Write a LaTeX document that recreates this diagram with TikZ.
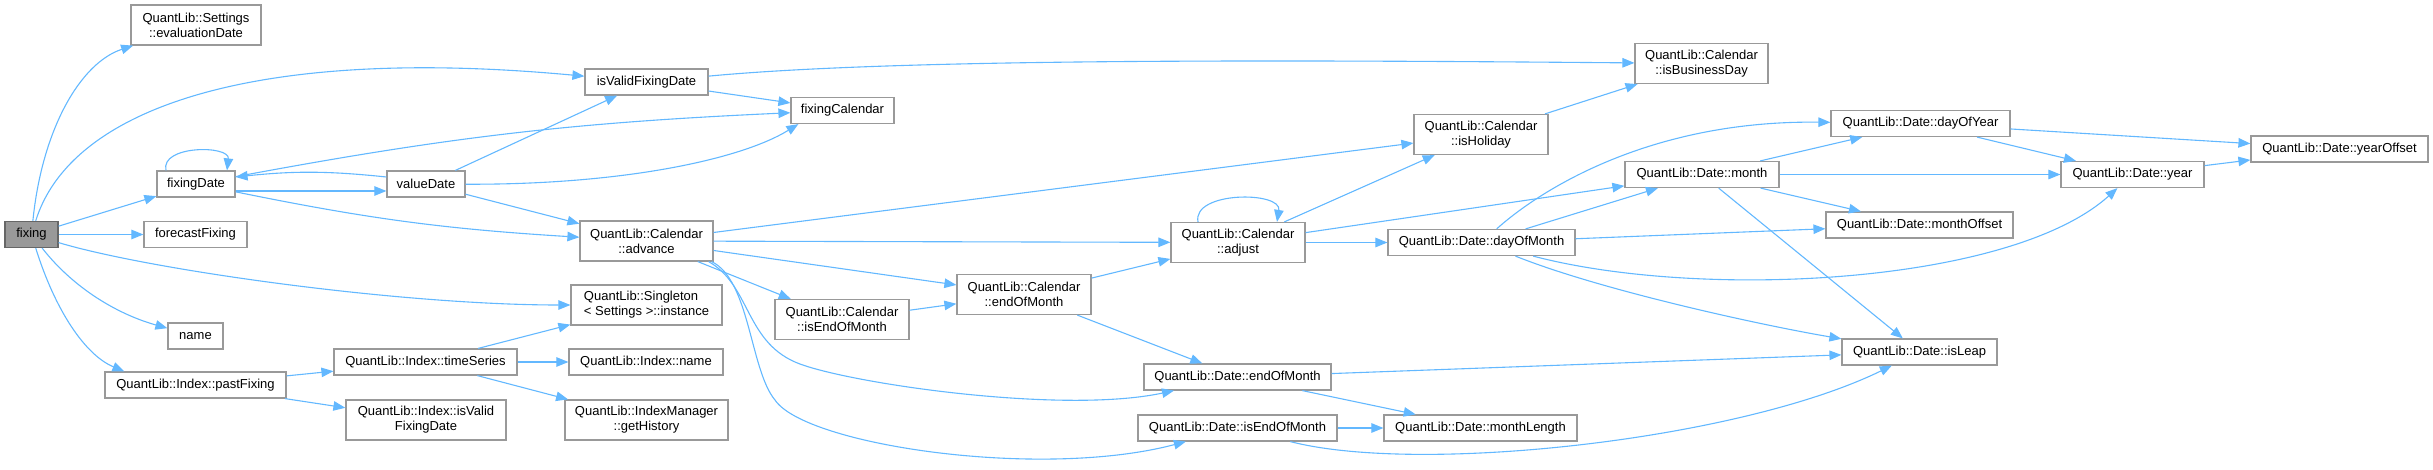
\documentclass[tikz,border=0pt]{standalone}
\usepackage{fontspec}
\setmainfont{Liberation Sans}
\usepackage{tikz}
\usetikzlibrary{arrows.meta}
\definecolor{Edge}{HTML}{63B8FF}
\definecolor{Frame}{HTML}{999999}
\definecolor{RootFill}{HTML}{999999}
\definecolor{RootFrame}{HTML}{666666}
\tikzset{fn/.style={draw=Frame,fill=white,line width=1.2pt,minimum height=26pt,inner xsep=4pt,inner ysep=4pt,align=center},fntwo/.style={fn,minimum height=40pt},fnroot/.style={fn,draw=RootFrame,fill=RootFill},call/.style={-{Triangle[length=12pt,width=9.5pt]},draw=Edge,line width=1.1pt}}
\begin{document}
\begin{tikzpicture}[x=1pt,y=-1pt,every node/.style={font=\fontsize{13}{15}\selectfont}]
      \useasboundingbox (0,0) rectangle (2433,470);
      \node[fnroot,minimum width=53pt](fixing) at (31.5,234.5){fixing};
      \node[fntwo,minimum width=130pt](evaldate) at (196,25){QuantLib::Settings\\::evaluationDate};
      \node[fn,minimum width=123pt](isvalid) at (646.5,82){isValidFixingDate};
      \node[fn,minimum width=103pt](fixcal) at (842.5,110.5){fixingCalendar};
      \node[fntwo,minimum width=133pt](isbusday) at (1701.5,63.5){QuantLib::Calendar\\::isBusinessDay};
      \node[fn,minimum width=78pt](fixdate) at (196,184){fixingDate};
      \node[fn,minimum width=78pt](valdate) at (426,184){valueDate};
      \node[fn,minimum width=103pt](forecast) at (195.5,234.5){forecastFixing};
      \node[fntwo,minimum width=133pt](advance) at (646.5,241){QuantLib::Calendar\\::advance};
      \node[fntwo,minimum width=134pt](isholiday) at (1481,134.5){QuantLib::Calendar\\::isHoliday};
      \node[fntwo,minimum width=134pt](adjust) at (1238,242.5){QuantLib::Calendar\\::adjust};
      \node[fntwo,minimum width=151pt,align=left](instance) at (646.5,305){QuantLib::Singleton\\< Settings >::instance};
      \node[fn,minimum width=55pt](name) at (195.5,336){name};
      \node[fn,minimum width=181pt](pastfix) at (195.5,385){QuantLib::Index::pastFixing};
      \node[fn,minimum width=183pt](series) at (425.5,362){QuantLib::Index::timeSeries};
      \node[fn,minimum width=154pt](idxname) at (646,362){QuantLib::Index::name};
      \node[fntwo,minimum width=160pt](idxvalid) at (426,420){QuantLib::Index::isValid\\FixingDate};
      \node[fntwo,minimum width=163pt](history) at (646.5,420){QuantLib::IndexManager\\::getHistory};
      \node[fntwo,minimum width=134pt](caliseom) at (842,319.5){QuantLib::Calendar\\::isEndOfMonth};
      \node[fntwo,minimum width=134pt](caleom) at (1024,294.5){QuantLib::Calendar\\::endOfMonth};
      \node[fn,minimum width=187pt](dateeom) at (1237.5,377){QuantLib::Date::endOfMonth};
      \node[fn,minimum width=199pt](dateiseom) at (1237.5,428){QuantLib::Date::isEndOfMonth};
      \node[fn,minimum width=193pt](monthlen) at (1480.5,428){QuantLib::Date::monthLength};
      \node[fn,minimum width=187pt](dom) at (1481.5,242.5){QuantLib::Date::dayOfMonth};
      \node[fn,minimum width=154pt](month) at (1702,174.5){QuantLib::Date::month};
      \node[fn,minimum width=179pt](doy) at (1920.5,123.5){QuantLib::Date::dayOfYear};
      \node[fn,minimum width=187pt](monthoff) at (1919.5,225){QuantLib::Date::monthOffset};
      \node[fn,minimum width=143pt](year) at (2132.5,174.5){QuantLib::Date::year};
      \node[fn,minimum width=177pt](yearoff) at (2339.5,149){QuantLib::Date::yearOffset};
      \node[fn,minimum width=155pt](isleap) at (1919.5,352){QuantLib::Date::isLeap};
      % calls from fixing
      \draw[call](fixing) .. controls (42,130) and (80,63) .. (evaldate);
      \draw[call](fixing) .. controls (70,110) and (250,45) .. (isvalid);
      \draw[call](fixing)--(fixdate);\draw[call](fixing)--(forecast);
      \draw[call](fixing) .. controls (150,270) and (400,305) .. (instance);
      \draw[call](fixing) .. controls (75,290) and (120,315) .. (name);
      \draw[call](fixing) .. controls (55,310) and (85,355) .. ([xshift=20pt]pastfix.north west);
      % fixing and value dates
      \draw[call](isvalid) .. controls (900,58) and (1300,60) .. (isbusday);
      \draw[call](isvalid)--(fixcal);
      \draw[call]([xshift=-30pt]fixdate.north) .. controls (160,145) and (230,145) .. ([xshift=31pt]fixdate.north);
      \draw[call]([yshift=-7pt]fixdate.east)--([yshift=-7pt]valdate.west);
      \draw[call]([yshift=7pt]valdate.west) to[bend right=6] ([yshift=7pt]fixdate.east);
      \draw[call](fixdate) to[bend left=4] (fixcal);\draw[call](fixdate) to[bend right=4] (advance);
      \draw[call](valdate)--(isvalid);\draw[call](valdate)--(advance);
      \draw[call](valdate) .. controls (620,185) and (740,160) .. ([xshift=8pt]fixcal.south west);
      % calendar
      \draw[call](advance)--(isholiday);\draw[call](advance)--(adjust);
      \draw[call](advance)--(caleom);\draw[call](advance)--(caliseom);
      \draw[call]([xshift=-5pt]advance.south east) .. controls (750,285) and (745,340) .. (795,362) .. controls (840,382) and (1060,415) .. (dateeom);
      \draw[call]([xshift=-2pt]advance.south east) .. controls (750,280) and (750,370) .. (775,400) .. controls (805,445) and (1040,480) .. (dateiseom);
      \draw[call](caliseom)--(caleom);\draw[call](caleom)--(adjust);\draw[call](caleom)--(dateeom);
      \draw[call]([xshift=-40pt]adjust.north) .. controls (1192,191) and (1282,191) .. ([xshift=39pt]adjust.north);
      \draw[call](adjust)--(isholiday);\draw[call](adjust)--(month);\draw[call](adjust)--(dom);
      \draw[call](isholiday)--(isbusday);
      % date
      \draw[call](dom) .. controls (1540,190) and (1650,120) .. (doy);
      \draw[call](dom)--(month);\draw[call](dom)--(monthoff);
      \draw[call](dom) .. controls (1700,300) and (2010,285) .. (year);
      \draw[call](dom) .. controls (1600,290) and (1760,325) .. (isleap);
      \draw[call](month)--(doy);\draw[call](month)--(year);\draw[call](month)--(monthoff);\draw[call](month)--(isleap);
      \draw[call](doy)--(yearoff);\draw[call](doy)--(year);\draw[call](year)--(yearoff);
      \draw[call](dateeom)--(monthlen);\draw[call](dateeom)--(isleap);\draw[call](dateiseom)--(monthlen);
      \draw[call](dateiseom) .. controls (1420,475) and (1740,440) .. (isleap);
      % index
      \draw[call](pastfix)--(series);\draw[call](pastfix)--(idxvalid);
      \draw[call](series)--(instance);\draw[call](series)--(idxname);\draw[call](series)--(history);
    \end{tikzpicture}
\end{document}
